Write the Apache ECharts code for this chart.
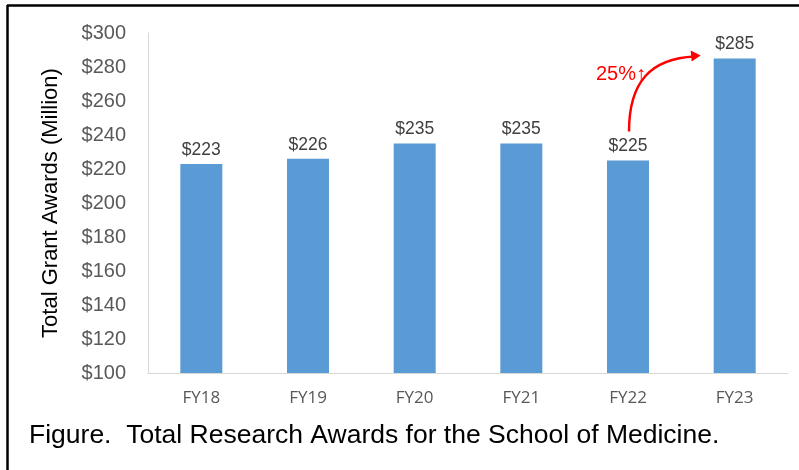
<!DOCTYPE html>
<html><head><meta charset="utf-8">
<script src="https://cdn.jsdelivr.net/npm/echarts@6/dist/echarts.min.js"></script>
<style>html,body{margin:0;padding:0;background:#fff}#c{width:799px;height:470px}</style>
</head><body><div id="c"></div>
<script>
const categories = ['FY18','FY19','FY20','FY21','FY22','FY23'];
const awards = [223, 226, 235, 235, 225, 285];
const yTicks = {min: 100, max: 300, interval: 20};
const growthLabel = '25%↑';
const captionText = 'Figure.  Total Research Awards for the School of Medicine.';

const chart = echarts.init(document.getElementById('c'), null, {renderer: 'canvas'});
chart.setOption({
  animation: false,
  backgroundColor: '#fff',
  grid: {left: 148, right: 11, top: 33, bottom: 97},
  xAxis: {
    type: 'category', data: categories,
    axisLine: {lineStyle: {color: '#d9d9d9', width: 1}},
    axisTick: {show: false},
    axisLabel: {color: '#595959', fontSize: 17, fontFamily: 'Open Sans', margin: 17}
  },
  yAxis: {
    type: 'value', min: yTicks.min, max: yTicks.max, interval: yTicks.interval,
    name: 'Total Grant Awards (Million)', nameLocation: 'middle', nameGap: 86,
    nameTextStyle: {color: '#000', fontSize: 22, fontFamily: 'Liberation Sans, Arial'},
    axisLine: {show: true, lineStyle: {color: '#d9d9d9', width: 1}},
    axisTick: {show: false},
    splitLine: {show: false},
    axisLabel: {color: '#595959', fontSize: 20, fontFamily: 'Liberation Sans, Arial', margin: 22,
      formatter: v => '$' + v}
  },
  series: [{
    type: 'bar', data: awards, barWidth: 42,
    itemStyle: {color: '#5b9bd5'},
    label: {show: true, position: 'top', distance: 5, color: '#404040', fontSize: 17.5,
      fontFamily: 'Liberation Sans, Arial', formatter: p => '$' + p.value}
  }]
});

const p22 = chart.convertToPixel({gridIndex: 0}, [4, awards[4]]);
const p23 = chart.convertToPixel({gridIndex: 0}, [5, awards[5]]);
const sx = p22[0] + 1, sy = p22[1] - 29;
const ex = p23[0] - 36, ey = p23[1] - 3;
chart.setOption({
  graphic: [
    {type: 'line', shape: {x1: 7, y1: 5.5, x2: 799, y2: 5.5}, style: {stroke: '#000', lineWidth: 2.5}},
    {type: 'line', shape: {x1: 7.5, y1: 5, x2: 7.5, y2: 470}, style: {stroke: '#000', lineWidth: 2.5}},
    {type: 'text', left: 29, top: 422, style: {text: captionText, fill: '#000', fontSize: 26.5, fontFamily: 'Liberation Sans, Arial'}},
    {type: 'bezierCurve', shape: {x1: sx, y1: sy, x2: ex - 4, y2: ey + 1, cpx1: sx, cpy1: sy - 50, cpx2: sx + 22, cpy2: ey + 3},
      style: {stroke: '#ff0000', lineWidth: 2.5, fill: null}},
    {type: 'polygon', shape: {points: [[ex + 2, ey], [ex - 8, ey - 5], [ex - 7, ey + 6]]}, style: {fill: '#ff0000'}},
    {type: 'text', x: sx - 33, y: sy - 67, style: {text: growthLabel, fill: '#ff0000', fontSize: 20, fontFamily: 'Liberation Sans, Arial'}}
  ]
});
</script></body></html>
